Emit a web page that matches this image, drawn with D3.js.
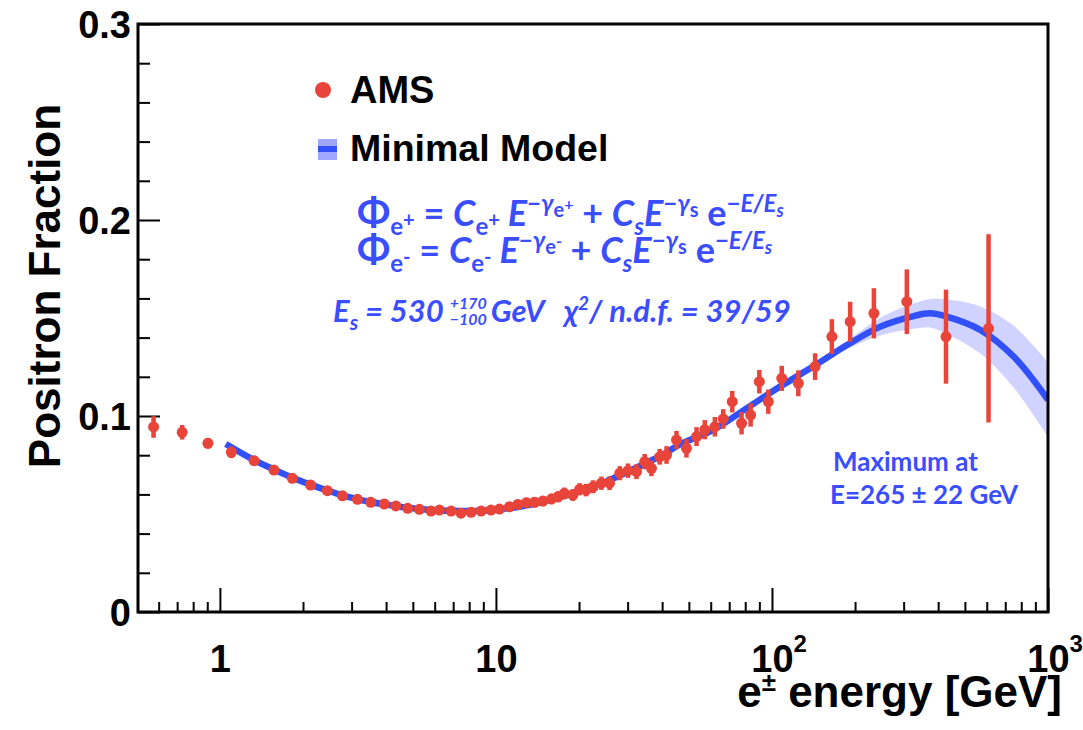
<!DOCTYPE html>
<html>
<head>
<meta charset="utf-8">
<script src="https://cdn.jsdelivr.net/npm/d3@7"></script>
<style>
body { margin: 0; background: #fff; }
svg { display: block; }
.axis text { font-family: "Liberation Sans", Arial, sans-serif; font-weight: bold; fill: #000; }
.axis line { stroke: #000; stroke-width: 2; }
.blue { font-family: Lato, "Open Sans", sans-serif; font-weight: bold; fill: #3a4dff; white-space: pre; }
</style>
</head>
<body>
<svg id="chart" width="1083" height="730"></svg>
<script>
// AMS positron fraction
var energy = [0.575, 0.73, 0.905, 1.10, 1.33, 1.57, 1.83, 2.13, 2.45, 2.78, 3.15, 3.52, 3.94, 4.34, 4.79, 5.28, 5.82,
  6.24, 6.88, 7.47, 8.13, 8.84, 9.6, 10.3, 11.2, 12.0, 12.9, 13.8, 14.8, 15.9, 16.8, 17.7, 19.0, 20.1, 21.2, 22.5,
  24.1, 25.8, 28.1, 30.1, 32.3, 34.6, 36.6, 39.2, 41.5, 45.1, 49.0, 53.3, 57.1, 62.1, 66.6, 71.8, 77.6, 83.7, 90.0,
  97.0, 108.5, 124.6, 143.3, 164.8, 192, 234, 308, 427, 609];
var fraction = [0.0944, 0.0917, 0.0861, 0.0815, 0.0772, 0.0724, 0.0682, 0.0648, 0.0619, 0.0593, 0.0575, 0.0560, 0.0551,
  0.0541, 0.0529, 0.0524, 0.0515, 0.0520, 0.0515, 0.0504, 0.0509, 0.0515, 0.0520, 0.0525, 0.0537, 0.0549, 0.0558,
  0.0560, 0.0566, 0.0577, 0.0588, 0.0605, 0.0597, 0.0626, 0.0622, 0.0639, 0.0657, 0.0657, 0.0708, 0.0721, 0.0716,
  0.0767, 0.0733, 0.0792, 0.0801, 0.0878, 0.0835, 0.0895, 0.0930, 0.0945, 0.0985, 0.1073, 0.0963, 0.1005, 0.1175,
  0.1073, 0.1192, 0.1167, 0.1252, 0.1405, 0.1481, 0.1524, 0.1583, 0.1405, 0.1447];
var fractionErr = [0.0055, 0.0037, 0.0027, 0.003, 0.0025, 0.002, 0.002, 0.002, 0.002, 0.002, 0.002, 0.002, 0.002,
  0.002, 0.002, 0.002, 0.002, 0.0022, 0.0022, 0.0022, 0.0022, 0.0023, 0.0023, 0.0024, 0.0024, 0.0025, 0.0025,
  0.0026, 0.0026, 0.0027, 0.0028, 0.003, 0.003, 0.0031, 0.0032, 0.0033, 0.0034, 0.0035, 0.0036, 0.0037, 0.0038,
  0.0039, 0.004, 0.004, 0.0045, 0.0046, 0.0047, 0.0048, 0.0049, 0.005, 0.005, 0.0055, 0.0057, 0.0059, 0.006,
  0.0062, 0.0064, 0.0066, 0.0068, 0.0089, 0.0102, 0.0128, 0.0165, 0.024, 0.048];

// minimal model curve and its uncertainty band
var modelE = [1.05, 1.33, 1.57, 1.83, 2.13, 2.45, 2.78, 3.15, 3.52, 3.94, 4.79, 5.82, 7.0, 8.0, 9.0, 10, 12, 15, 20,
  25, 30, 35, 40, 46.4, 61.2, 80.9, 107, 141, 187, 247, 326, 374, 430, 569, 752, 1000];
var modelFrac = [0.0857, 0.0775, 0.0727, 0.0685, 0.0650, 0.0620, 0.0595, 0.0576, 0.0561, 0.0549, 0.0532, 0.0521,
  0.0516, 0.0515, 0.0517, 0.0522, 0.0536, 0.0565, 0.0615, 0.0665, 0.0715, 0.0760, 0.0800, 0.0855, 0.0929, 0.1039,
  0.1150, 0.1252, 0.1362, 0.1456, 0.1510, 0.1524, 0.1507, 0.1439, 0.1302, 0.1082];
var modelErr = [0, 0, 0, 0, 0, 0, 0, 0, 0, 0, 0, 0, 0, 0, 0, 0, 0, 0, 0, 0, 0, 0, 0, 0, 0, 0,
  0, 0.0006, 0.002, 0.0045, 0.0065, 0.0072, 0.0088, 0.012, 0.0158, 0.019];

var yTicks = [0, 0.1, 0.2, 0.3];
var xTicks = [1, 10, 100, 1000];
var xTickLabels = ["1", "10", "10", "10"];
var xTickExp = ["", "", "2", "3"];

var red = "#e8443a", blue = "#3150fa";

var svg = d3.select("#chart");
var pLeft = 138, pRight = 1048, pTop = 24, pBottom = 612;

var x = d3.scaleLog().domain([0.505, 1000]).range([pLeft, pRight]);
var y = d3.scaleLinear().domain([0, 0.3]).range([pBottom, pTop]);

svg.append("defs").append("clipPath").attr("id", "plot")
  .append("rect").attr("x", pLeft).attr("y", pTop).attr("width", pRight - pLeft).attr("height", pBottom - pTop);

// y axis
var yMinor = d3.range(0.02, 0.3, 0.02).filter(function (v) { return Math.abs(v * 10 - Math.round(v * 10)) > 1e-6; });
svg.append("g").attr("class", "axis").attr("transform", "translate(" + pLeft + ",0)")
  .call(d3.axisLeft(y).tickValues(yMinor).tickSizeInner(-12).tickSizeOuter(0).tickFormat(""))
  .call(function (g) { g.select(".domain").remove(); });
svg.append("g").attr("class", "axis").attr("transform", "translate(" + pLeft + ",0)")
  .call(d3.axisLeft(y).tickValues(yTicks).tickSizeInner(-22).tickSizeOuter(0).tickPadding(7)
    .tickFormat(function (d) { return d === 0 ? "0" : d3.format(".1f")(d); }))
  .call(function (g) {
    g.select(".domain").remove();
    g.selectAll("text").style("font-size", "38px").attr("dy", "0.36em");
  });

// x axis
var xMinor = [];
[0.1, 1, 10, 100].forEach(function (dec) {
  d3.range(2, 10).forEach(function (k) {
    var v = k * dec;
    if (v > 0.505 && v < 1000) xMinor.push(v);
  });
});
svg.append("g").attr("class", "axis").attr("transform", "translate(0," + pBottom + ")")
  .call(d3.axisBottom(x).tickValues(xMinor).tickSizeInner(-10).tickSizeOuter(0).tickFormat(""))
  .call(function (g) { g.select(".domain").remove(); });
svg.append("g").attr("class", "axis").attr("transform", "translate(0," + pBottom + ")")
  .call(d3.axisBottom(x).tickValues(xTicks).tickSizeInner(-24).tickSizeOuter(0)
    .tickFormat(function (d, i) { return xTickLabels[i]; }))
  .call(function (g) {
    g.select(".domain").remove();
    g.selectAll("text").style("font-size", "38px").attr("y", 60).attr("dy", 0);
    g.selectAll(".tick").each(function (d, i) {
      if (!xTickExp[i]) return;
      d3.select(this).append("text").attr("x", 21).attr("y", 40)
        .attr("text-anchor", "start").style("font-size", "24px").text(xTickExp[i]);
    });
  });

// axis titles
svg.append("text")
  .attr("transform", "translate(60,286)rotate(-90)")
  .attr("text-anchor", "middle")
  .style("font-family", "'Liberation Sans', Arial, sans-serif").style("font-weight", "bold").style("font-size", "44px")
  .text("Positron Fraction");

var xt = svg.append("text")
  .attr("x", 1062).attr("y", 707).attr("text-anchor", "end")
  .style("font-family", "'Liberation Sans', Arial, sans-serif").style("font-weight", "bold").style("font-size", "44px");
xt.append("tspan").text("e");
xt.append("tspan").attr("dy", -16).style("font-size", "26px").text("±");
xt.append("tspan").attr("dy", 16).text(" energy [GeV]");

// model band
var model = modelE.map(function (e, i) { return { e: e, v: modelFrac[i], err: modelErr[i] }; });
var plot = svg.append("g").attr("clip-path", "url(#plot)");
var bandData = model.filter(function (d, i) { return d.err > 0 || (model[i + 1] && model[i + 1].err > 0); });
plot.append("path")
  .datum(bandData)
  .attr("fill", "#b0b4ff").attr("fill-opacity", 0.6)
  .attr("d", d3.area().curve(d3.curveCatmullRom)
    .x(function (d) { return x(d.e); })
    .y0(function (d) { return y(d.v - d.err); })
    .y1(function (d) { return y(d.v + d.err); }));

// AMS points
var pts = energy.map(function (e, i) { return { e: e, v: fraction[i], err: fractionErr[i] }; });
var pg = svg.append("g");
pg.selectAll("line").data(pts).enter().append("line")
  .attr("x1", function (d) { return x(d.e); }).attr("x2", function (d) { return x(d.e); })
  .attr("y1", function (d) { return y(d.v - d.err); }).attr("y2", function (d) { return y(d.v + d.err); })
  .attr("stroke", red).attr("stroke-width", 4.5);
pg.selectAll("circle").data(pts).enter().append("circle")
  .attr("cx", function (d) { return x(d.e); }).attr("cy", function (d) { return y(d.v); })
  .attr("r", 5.5).attr("fill", red);

// model line
plot.append("path")
  .datum(model)
  .attr("fill", "none").attr("stroke", blue).attr("stroke-width", 6.5)
  .attr("d", d3.line().curve(d3.curveCatmullRom)
    .x(function (d) { return x(d.e); })
    .y(function (d) { return y(d.v); }));

// frame
svg.append("rect").attr("x", pLeft).attr("y", pTop).attr("width", pRight - pLeft).attr("height", pBottom - pTop)
  .attr("fill", "none").attr("stroke", "#000").attr("stroke-width", 3);

// legend
var lf = "'Liberation Sans', Arial, sans-serif";
svg.append("circle").attr("cx", 323).attr("cy", 90).attr("r", 8).attr("fill", red);
svg.append("text").attr("x", 350).attr("y", 103).style("font-family", lf).style("font-weight", "bold")
  .style("font-size", "38px").text("AMS");
svg.append("rect").attr("x", 318).attr("y", 139).attr("width", 19).attr("height", 21).attr("fill", "#9ea6ff");
svg.append("rect").attr("x", 318).attr("y", 146).attr("width", 19).attr("height", 6).attr("fill", blue);
svg.append("text").attr("x", 350).attr("y", 161).style("font-family", lf).style("font-weight", "bold")
  .style("font-size", "37.5px").text("Minimal Model");

// formulas
function rich(px, py, parts) {
  var t = svg.append("text").attr("class", "blue").attr("x", px).attr("y", py);
  var prev = 0;
  parts.forEach(function (p) {
    t.append("tspan").attr("dy", p[2] - prev)
      .style("font-size", p[1] + "px").style("font-style", p[3] ? "italic" : "normal").text(p[0]);
    prev = p[2];
  });
  return t;
}
function fluxLine(py, sign) {
  return rich(357, py, [
    ["\u03A6", 39, 0, 0], ["e", 24, 9, 0], [sign, 20, 1, 0],
    [" = ", 36, 0, 0], ["C", 36, 0, 1], ["e", 24, 9, 0], [sign, 20, 1, 0],
    [" E", 36, 0, 1], ["\u2212\u03B3", 24, -14, 1], ["e", 20, -9, 0], [sign, 16, -16, 0],
    [" + ", 36, 0, 0], ["C", 36, 0, 1], ["s", 24, 9, 1], ["E", 36, 0, 1],
    ["\u2212\u03B3", 24, -14, 1], ["s", 20, -9, 0], [" e", 36, 0, 0],
    ["\u2212E/E", 24, -14, 1], ["s", 18, -9, 1]
  ]);
}
fluxLine(226, "+");
fluxLine(263, "-");

var l3 = rich(333, 322, [["E", 31, 0, 1], ["s", 21, 8, 1], [" = 530", 31, 0, 1]]);
var sx = 333 + l3.node().getComputedTextLength() + 6;
svg.append("text").attr("class", "blue").attr("x", sx).attr("y", 309)
  .style("font-size", "16px").style("font-style", "italic").text("+170");
var lo = svg.append("text").attr("class", "blue").attr("x", sx).attr("y", 325)
  .style("font-size", "16px").style("font-style", "italic").text("\u2212100");
rich(sx + lo.node().getComputedTextLength() + 4, 322,
  [["GeV   \u03C7", 31, 0, 1], ["2", 19, -12, 1], ["/ n.d.f. = 39/59", 31, 0, 1]]);

// maximum annotation
svg.append("text").attr("class", "blue").attr("x", 833).attr("y", 471).style("font-size", "26px").text("Maximum at");
svg.append("text").attr("class", "blue").attr("x", 830).attr("y", 504).style("font-size", "26px").text("E=265 \u00B1 22 GeV");
</script>
</body>
</html>
